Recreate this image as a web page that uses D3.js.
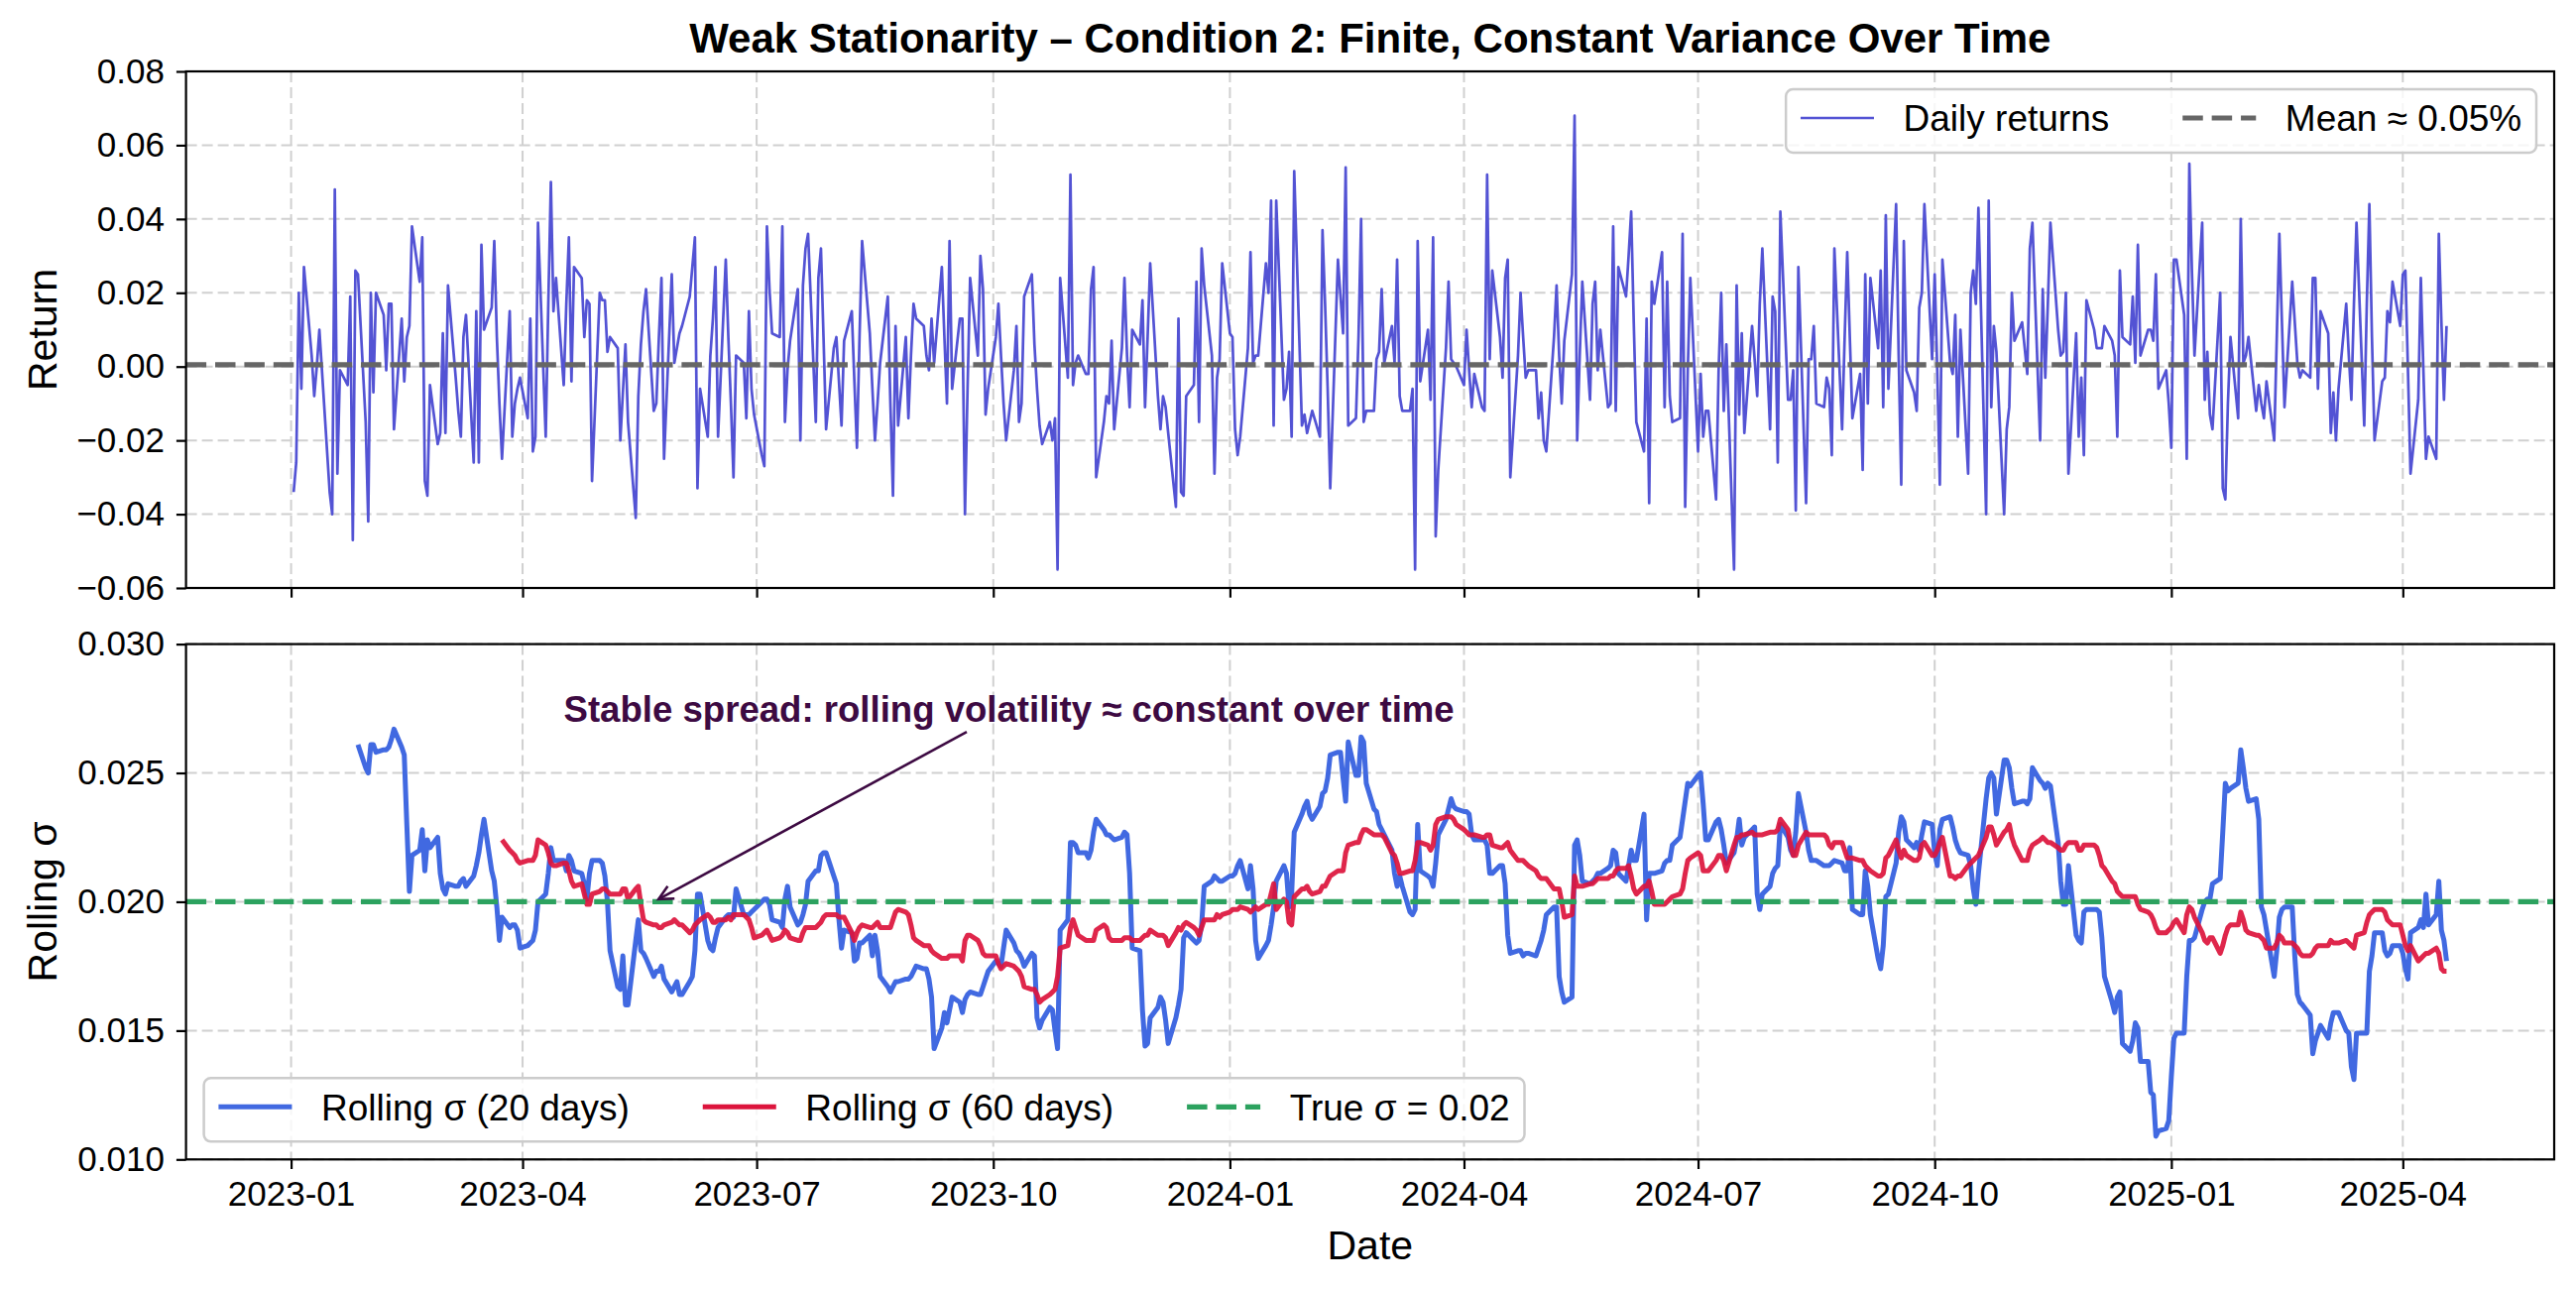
<!DOCTYPE html>
<html>
<head>
<meta charset="utf-8">
<script src="https://cdn.jsdelivr.net/npm/d3@7"></script>
<style>
	html, body { margin: 0; padding: 0; background: #fff; }
	svg { display: block; }
</style>
</head>
<body>
<svg id="chart" width="2598" height="1300"></svg>
<script>
'use strict';

//----- Data -----

//First business day of the series (one return per business day)
var startDate = "2023-01-02";

//Daily returns, in percent
var dailyReturnsPct = [
	-3.4,-2.6,2.0,-0.6,2.7, 0.3,-0.8,0.0,1.0,-0.1,
	-3.4,-4.0,4.8,-2.9,-0.1, -0.5,1.9,-4.7,2.6,2.5,
	-1.5,-4.2,2.0,-0.7,2.0, 1.4,-0.1,1.7,1.7,-1.7,
	1.3,-0.4,0.8,1.1,3.8, 2.3,3.5,-3.1,-3.5,-0.5,
	-2.1,-1.8,0.9,-1.8,2.2, -0.3,-1.2,-1.9,0.8,1.4,
	-2.6,1.5,-2.6,3.3,1.0, 1.6,3.4,0.8,-1.0,-2.5,
	1.5,-1.9,-1.0,-0.6,-0.3, -1.4,1.3,-2.3,-1.9,3.9,
	-1.9,1.7,5.0,1.5,2.4, -0.5,1.7,3.5,-0.4,2.7,
	2.4,0.8,1.8,1.7,-3.1, 2.0,1.8,1.8,0.4,0.8,
	0.5,-2.0,-0.7,0.6,-1.5, -4.1,-0.8,0.6,1.5,2.1,
	-1.2,-1.0,0.8,2.4,-2.5, 2.5,0.1,0.5,0.9,1.1,
	1.9,2.7,3.5,-3.3,-0.6, -1.9,0.3,1.3,2.7,-1.9,
	2.9,0.8,-1.0,-3.0,0.3, 0.1,-1.4,1.5,-0.6,-1.3,
	-2.4,-2.7,3.8,2.1,0.9, 0.8,3.8,-1.5,-0.1,0.7,
	2.1,-2.0,2.2,3.2,3.6, -1.5,2.4,3.2,0.8,-1.7,
	0.5,0.8,-0.4,-1.6,0.7, 1.5,-0.4,-2.2,0.8,3.4,
	0.9,-0.6,-2.0,-1.0,0.1, 1.9,-1.0,-3.5,1.1,-1.6,
	0.8,-1.4,0.3,1.7,1.3, 1.1,0.3,-0.1,1.3,0.1,
	2.7,0.8,-1.0,3.4,-0.6, 1.3,1.3,-4.0,-0.6,2.4,
	0.3,3.0,2.1,-1.3,-0.6, 0.8,1.7,0.3,-1.0,-2.0,
	-0.1,1.1,-1.5,-1.0,1.9, 2.5,0.6,-0.6,-1.6,-2.1,
	-1.5,-2.0,-1.4,-5.5,2.4, -0.3,5.2,-0.5,0.1,0.3,
	-0.2,-0.2,2.1,2.7,-3.0, -1.5,-0.8,-1.0,0.7,-1.7,
	0.5,2.4,0.3,-1.1,1.0, 0.6,1.8,-1.1,0.8,2.8,
	-0.8,-1.7,-0.8,-1.1,-1.8, -3.8,1.3,-3.4,-3.5,-0.8,
	-0.5,2.3,-1.5,3.2,2.2, 0.3,-2.9,-0.3,0.2,2.8,
	0.9,0.8,-1.7,-2.4,-1.9, 0.5,3.1,0.1,0.3,0.3,
	2.8,2.0,4.5,-1.6,4.5, -0.9,-0.6,0.4,-1.9,5.3,
	-1.6,-1.3,-1.8,-1.5,-1.2, -1.9,3.7,1.7,-0.6,-3.3,
	2.9,1.9,0.9,5.4,-1.6, -1.4,0.8,4.0,-1.5,-1.2,
	-1.2,0.2,0.4,2.1,0.1, 1.1,0.1,2.9,-0.8,-1.2,
	-1.2,-0.6,-5.5,3.4,-0.4, 1.0,-0.9,3.5,-4.6,-2.8,
	0.5,2.3,0.2,0.1,0.0, -0.5,1.0,-0.1,-1.1,-0.2,
	-1.1,-1.2,5.2,0.2,2.6, 0.8,-0.3,2.4,2.9,-3.0,
	0.3,2.0,0.8,-0.3,-0.1, -0.1,-1.4,-0.7,-2.0,-2.3,
	0.8,2.2,0.3,-1.0,0.7, 2.5,6.8,-2.0,0.3,2.3,
	-0.9,1.7,2.3,-0.1,1.0, -1.1,-1.0,3.8,-1.2,2.7,
	1.9,3.0,4.2,1.2,-1.5, -2.3,1.3,-3.7,2.3,1.7,
	3.1,-1.1,2.3,-0.8,-1.5, -1.4,3.6,-3.8,-0.1,2.4,
	-2.3,-0.2,-1.9,-1.2,-1.2, -3.6,-0.1,2.0,-1.2,0.6,
	-5.5,2.2,-1.3,0.9,-1.8, 1.1,0.2,-0.8,1.7,3.2,
	-1.7,1.9,1.5,-2.6,4.2, -0.9,-0.9,-0.1,-3.9,2.7,
	-3.7,0.2,0.2,1.1,-1.0, -1.1,-0.3,-0.6,-2.4,3.2,
	-1.7,0.8,3.1,0.8,-1.4, -0.2,-2.8,2.5,-1.0,2.4,
	0.5,2.6,-1.1,4.1,-0.6, 4.4,0.3,-3.2,3.4,-0.1,
	-0.7,-1.2,1.6,2.0,4.4, 0.2,2.5,-0.1,-3.2,2.9,
	0.1,-0.2,1.4,-1.9,1.0, -2.9,2.0,2.6,1.7,4.3,
	-4.0,4.5,-1.1,1.1,0.4, -4.0,-1.7,-1.1,2.0,0.7,
	1.2,0.5,-0.2,3.2,3.9, -2.0,2.1,-0.3,1.7,3.9,
	1.0,0.3,0.4,2.0,-2.9, 0.9,-1.9,-0.3,-2.4,1.8,
	1.0,0.5,0.5,0.5,1.1, 0.7,0.3,-1.9,2.6,0.8,
	0.6,1.9,0.1,3.3,0.3, 1.0,1.0,0.7,2.5,-0.6,
	-0.1,-1.0,-2.2,2.9,2.9, 1.4,-2.5,5.5,2.6,0.3,
	3.9,-0.9,0.4,-1.3,-1.7, 2.0,-3.3,-3.6,-1.0,0.8,
	-1.4,4.0,0.1,0.3,0.8, -1.2,-0.5,-1.0,-1.4,-0.4,
	-2.0,0.8,3.6,1.2,-1.1, 2.3,1.2,0.1,-0.3,-0.1,
	-0.3,2.4,2.4,-0.6,1.5, 0.9,-1.8,-0.7,-2.0,-0.6,
	1.7,0.3,-0.9,1.7,3.9, -1.6,1.7,4.4,0.8,-2.0,
	-0.4,-0.3,1.5,1.2,2.3, 1.1,2.5,2.6,-0.1,-2.9,
	-0.9,2.4,-0.1,-2.5,-1.9, -2.5,3.6,1.2,-0.9,1.1
];

//Rolling 20-day sigma, in percent (first value on the 20th day)
var sigma20Pct = [
	2.61,
	2.52,2.50,2.61,2.61,2.58, 2.59,2.59,2.60,2.63,2.67,
	2.60,2.57,2.30,2.04,2.18, 2.20,2.28,2.12,2.24,2.21,
	2.25,2.11,2.05,2.03,2.07, 2.06,2.06,2.08,2.09,2.06,
	2.10,2.14,2.19,2.26,2.32, 2.12,2.08,1.98,1.85,1.94,
	1.90,1.91,1.91,1.89,1.82, 1.83,1.84,1.85,1.89,2.00,
	2.03,2.11,2.21,2.16,2.16, 2.16,2.12,2.18,2.16,2.12,
	2.11,2.07,2.01,2.11,2.16, 2.16,2.15,2.10,2.00,1.81,
	1.67,1.66,1.79,1.60,1.60, 1.85,1.93,1.81,1.80,1.78,
	1.71,1.73,1.73,1.75,1.70, 1.65,1.67,1.69,1.64,1.64,
	1.69,1.71,1.81,2.03,2.03, 1.85,1.82,1.81,1.86,1.90,
	1.94,1.95,1.95,1.94,2.05, 1.95,1.95,1.95,1.96,1.97,
	2.00,2.01,2.01,1.99,1.93, 1.92,1.90,2.01,2.06,1.98,
	1.91,1.92,1.95,1.99,2.08, 2.12,2.12,2.18,2.19,2.19,
	2.10,2.07,1.93,1.82,1.89, 1.88,1.77,1.78,1.84,1.84,
	1.87,1.79,1.87,1.81,1.71, 1.67,1.65,1.67,1.69,1.69,
	1.70,1.70,1.71,1.73,1.75, 1.74,1.74,1.70,1.63,1.43,
	1.51,1.57,1.53,1.58,1.63, 1.61,1.57,1.62,1.64,1.65,
	1.64,1.64,1.67,1.70,1.73, 1.77,1.76,1.75,1.82,1.89,
	1.84,1.81,1.80,1.78,1.75, 1.80,1.79,1.55,1.51,1.54,
	1.59,1.58,1.50,1.43,1.89, 1.93,2.23,2.23,2.22,2.19,
	2.19,2.17,2.20,2.27,2.32, 2.28,2.26,2.26,2.25,2.24,
	2.25,2.27,2.26,2.11,1.82, 1.81,1.58,1.44,1.45,1.55,
	1.59,1.63,1.61,1.54,1.45, 1.55,1.60,1.66,1.86,1.88,
	1.85,1.84,1.85,1.91,2.06, 2.08,2.10,2.09,2.08,2.08,
	2.10,2.10,2.11,2.14,2.16, 2.05,2.14,2.05,1.85,1.78,
	1.83,1.85,1.91,1.98,2.08, 2.14,2.11,1.98,2.03,2.27,
	2.34,2.37,2.39,2.34,2.32, 2.37,2.42,2.43,2.48,2.57,
	2.58,2.58,2.48,2.39,2.62, 2.49,2.49,2.64,2.62,2.46,
	2.36,2.35,2.30,2.28,2.26, 2.20,2.11,2.06,2.10,2.06,
	1.96,1.95,1.97,2.30,2.12, 2.10,2.09,2.06,2.15,2.26,
	2.32,2.36,2.40,2.37,2.36, 2.35,2.35,2.34,2.26,2.24,
	2.24,2.24,2.22,2.11,2.11, 2.14,2.14,2.07,1.87,1.80,
	1.81,1.81,1.79,1.80,1.80, 1.79,1.82,1.85,1.89,1.95,
	1.98,1.98,1.71,1.65,1.61, 1.63,2.22,2.24,2.18,2.08,
	2.07,2.08,2.09,2.11,2.11, 2.13,2.14,2.20,2.19,2.11,
	2.08,2.14,2.20,2.16,2.16, 2.34,1.93,2.11,2.11,2.11,
	2.12,2.15,2.16,2.16,2.22, 2.25,2.32,2.39,2.46,2.45,
	2.49,2.50,2.38,2.24,2.24, 2.31,2.32,2.28,2.22,2.15,
	2.19,2.24,2.32,2.22,2.25, 2.28,2.29,2.03,1.97,2.03,
	2.06,2.11,2.13,2.14,2.30, 2.25,2.20,2.18,2.27,2.42,
	2.27,2.20,2.16,2.16,2.16, 2.14,2.14,2.14,2.15,2.16,
	2.15,2.12,2.12,2.21,1.97, 1.95,1.95,2.12,2.06,1.95,
	1.78,1.74,1.83,2.02,2.03, 2.15,2.27,2.33,2.31,2.24,
	2.21,2.23,2.20,2.26,2.31, 2.30,2.19,2.14,2.28,2.32,
	2.33,2.29,2.24,2.21,2.19, 2.18,2.14,2.05,1.99,2.11,
	2.40,2.48,2.50,2.48,2.34, 2.55,2.55,2.52,2.44,2.38,
	2.39,2.39,2.38,2.40,2.52, 2.47,2.46,2.44,2.46,2.45,
	2.23,2.08,1.99,1.99,2.14, 1.87,1.85,1.84,1.96,1.97,
	1.97,1.97,1.96,1.86,1.71, 1.61,1.57,1.63,1.65,1.45,
	1.42,1.46,1.53,1.51,1.38, 1.38,1.26,1.25,1.09,1.11,
	1.12,1.15,1.32,1.47,1.49, 1.49,1.71,1.85,1.85,1.86,
	1.97,2.00,2.01,2.01,2.07, 2.09,2.27,2.46,2.43,2.44,
	2.46,2.59,2.52,2.44,2.39, 2.40,2.32,1.98,1.95,1.89,
	1.71,1.81,1.94,1.97,1.98, 1.98,1.79,1.64,1.61,1.60,
	1.56,1.41,1.46,1.49,1.52, 1.47,1.53,1.57,1.57,1.57,
	1.50,1.49,1.36,1.31,1.49, 1.49,1.49,1.73,1.79,1.88,
	1.88,1.81,1.79,1.80,1.83, 1.83,1.80,1.74,1.70,1.88,
	1.90,1.93,1.90,2.03,1.91, 1.95,2.08,1.89,1.85,1.77
];

//Rolling 60-day sigma, in percent (first value on the 60th day)
var sigma60Pct = [
	2.24,
	2.20,2.19,2.18,2.16,2.15, 2.16,2.16,2.16,2.18,2.24,
	2.22,2.19,2.15,2.14,2.14, 2.15,2.15,2.12,2.08,2.06,
	2.07,2.03,1.99,1.99,2.03, 2.04,2.05,2.05,2.04,2.03,
	2.03,2.03,2.05,2.05,2.01, 2.05,2.06,1.99,1.93,1.92,
	1.91,1.91,1.90,1.90,1.91, 1.92,1.93,1.92,1.91,1.91,
	1.88,1.89,1.91,1.92,1.93, 1.95,1.94,1.92,1.92,1.93,
	1.93,1.94,1.93,1.95,1.95, 1.95,1.94,1.93,1.90,1.86,
	1.87,1.88,1.89,1.87,1.85, 1.86,1.87,1.89,1.88,1.86,
	1.85,1.85,1.88,1.90,1.90, 1.90,1.91,1.92,1.94,1.95,
	1.95,1.95,1.94,1.94,1.94, 1.88,1.85,1.88,1.90,1.91,
	1.90,1.90,1.91,1.92,1.90, 1.90,1.90,1.93,1.96,1.97,
	1.96,1.95,1.91,1.86,1.85, 1.83,1.83,1.83,1.81,1.80,
	1.78,1.78,1.78,1.79,1.79, 1.79,1.77,1.85,1.87,1.87,
	1.85,1.83,1.80,1.79,1.79, 1.79,1.76,1.74,1.75,1.76,
	1.75,1.74,1.73,1.71,1.67, 1.66,1.66,1.64,1.61,1.62,
	1.64,1.65,1.66,1.71,1.82, 1.83,1.90,1.93,1.90,1.87,
	1.85,1.85,1.85,1.85,1.89, 1.91,1.90,1.86,1.85,1.85,
	1.85,1.86,1.86,1.86,1.85, 1.85,1.86,1.87,1.87,1.89,
	1.87,1.87,1.87,1.86,1.83, 1.88,1.90,1.89,1.91,1.92,
	1.90,1.89,1.87,1.90,1.93, 1.93,1.93,1.95,1.94,1.95,
	1.96,1.97,1.97,1.97,1.98, 1.97,1.96,1.97,1.98,1.97,
	1.99,1.99,2.03,2.07,1.97, 2.01,2.00,1.92,1.91,2.02,
	2.05,2.05,2.06,2.04,2.03, 2.04,2.06,2.06,2.08,2.10,
	2.12,2.12,2.12,2.19,2.22, 2.23,2.23,2.26,2.28,2.28,
	2.26,2.26,2.26,2.26,2.25, 2.19,2.18,2.15,2.11,2.11,
	2.12,2.12,2.16,2.23,2.23, 2.22,2.20,2.22,2.30,2.32,
	2.33,2.33,2.33,2.32,2.30, 2.28,2.27,2.26,2.26,2.26,
	2.25,2.25,2.26,2.26,2.22, 2.21,2.21,2.22,2.23,2.20,
	2.16,2.16,2.16,2.15,2.14, 2.12,2.10,2.09,2.09,2.09,
	2.05,2.05,2.05,2.00,1.94, 1.95,2.10,2.06,2.06,2.06,
	2.07,2.07,2.08,2.09,2.09, 2.09,2.10,2.10,2.12,2.13,
	2.13,2.14,2.10,2.05,2.03, 2.06,2.06,2.08,2.04,1.99,
	1.99,1.99,2.00,2.01,2.02, 2.03,2.05,2.11,2.16,2.17,
	2.19,2.18,2.12,2.12,2.12, 2.16,2.18,2.18,2.16,2.12,
	2.22,2.25,2.25,2.26,2.26, 2.27,2.26,2.26,2.26,2.26,
	2.27,2.27,2.27,2.28,2.32, 2.28,2.22,2.18,2.18,2.22,
	2.27,2.26,2.26,2.26,2.26, 2.26,2.25,2.22,2.21,2.23,
	2.23,2.20,2.17,2.17,2.17, 2.16,2.16,2.14,2.13,2.12,
	2.10,2.10,2.11,2.17,2.18, 2.24,2.20,2.17,2.20,2.18,
	2.16,2.16,2.17,2.22,2.23, 2.18,2.18,2.20,2.23,2.25,
	2.10,2.10,2.09,2.10,2.10, 2.14,2.15,2.16,2.17,2.18,
	2.25,2.29,2.29,2.26,2.22, 2.27,2.28,2.30,2.25,2.22,
	2.16,2.16,2.16,2.20,2.22, 2.24,2.25,2.24,2.23,2.23,
	2.21,2.20,2.20,2.22,2.23, 2.23,2.20,2.20,2.22,2.22,
	2.22,2.21,2.18,2.14,2.13, 2.08,2.07,2.04,2.03,2.02,
	2.02,2.02,2.02,1.99,1.97, 1.96,1.95,1.93,1.90,1.88,
	1.88,1.89,1.90,1.92,1.93, 1.88,1.95,1.98,1.97,1.94,
	1.88,1.85,1.84,1.86,1.86, 1.80,1.83,1.87,1.90,1.91,
	1.91,1.96,1.93,1.89,1.88, 1.87,1.87,1.86,1.85,1.82,
	1.82,1.84,1.87,1.86,1.84, 1.84,1.83,1.82,1.80,1.79,
	1.79,1.80,1.82,1.83,1.83, 1.83,1.85,1.84,1.84,1.84,
	1.85,1.84,1.83,1.82,1.87, 1.88,1.92,1.95,1.96,1.97,
	1.97,1.96,1.93,1.92,1.91, 1.91,1.87,1.83,1.81,1.83,
	1.77,1.78,1.79,1.80,1.80, 1.82,1.80,1.74,1.73,1.73
];

var window20 = 20;
var window60 = 60;
var meanReturn = 0.0005;
var trueSigma = 0.02;

//Axis ticks
var xTickMonths = ["2023-01","2023-04","2023-07","2023-10","2024-01","2024-04","2024-07","2024-10","2025-01","2025-04"];
var returnTicks = [-0.06, -0.04, -0.02, 0.00, 0.02, 0.04, 0.06, 0.08];
var sigmaTicks = [0.010, 0.015, 0.020, 0.025, 0.030];

//Texts
var titleText = "Weak Stationarity \u2013 Condition 2: Finite, Constant Variance Over Time";
var annotationText = "Stable spread: rolling volatility \u2248 constant over time";
var topLegendLabels = ["Daily returns", "Mean \u2248 0.05%"];
var bottomLegendLabels = ["Rolling \u03c3 (20 days)", "Rolling \u03c3 (60 days)", "True \u03c3 = 0.02"];

//----- Layout and style -----
var FONT = '"Liberation Sans", Arial, Helvetica, sans-serif';
var plotLeft = 187.6, plotRight = 2576;
var topPanel = { top: 72, bottom: 593 };
var bottomPanel = { top: 649.6, bottom: 1169.3 };
var tickLen = 9.7;
var gridColor = "#d0d0d0";
var colors = {
	returns: "#5353d4",
	mean: "#666666",
	sigma20: "#4169e1",
	sigma60: "#dc143c",
	truth: "#2ca25f",
	note: "#3d0a42"
};
var bigDash = "20.5,8.9";

var svg = d3.select("#chart").attr("font-family", FONT);

//----- Series -----
var parseDay = d3.utcParse("%Y-%m-%d");
var parseMonth = d3.utcParse("%Y-%m");

//One business day per return
var dates = [];
var day = parseDay(startDate);
while(dates.length < dailyReturnsPct.length) {
	var weekDay = day.getUTCDay();
	if(weekDay !== 0 && weekDay !== 6)
		dates.push(day);
	day = d3.utcDay.offset(day, 1);
}

var returns = dailyReturnsPct.map(function(v, i) { return { date: dates[i], value: v / 100 }; });
var rolling20 = sigma20Pct.map(function(v, i) { return { date: dates[i + window20 - 1], value: v / 100 }; });
var rolling60 = sigma60Pct.map(function(v, i) { return { date: dates[i + window60 - 1], value: v / 100 }; });

//x domain with the 5% margins matplotlib adds
var t0 = dates[0], t1 = dates[dates.length - 1];
var xPad = (t1 - t0) * 0.05;
var x = d3.scaleUtc()
	.domain([new Date(+t0 - xPad), new Date(+t1 + xPad)])
	.range([plotLeft, plotRight]);
var xTicks = xTickMonths.map(function(m) { return parseMonth(m); });

var yReturn = d3.scaleLinear().domain([-0.06, 0.08]).range([topPanel.bottom, topPanel.top]);
var ySigma = d3.scaleLinear().domain([0.010, 0.030]).range([bottomPanel.bottom, bottomPanel.top]);

//----- Panels -----
function drawPanel(panel, yScale, yTicks, yFormat, showXLabels, clipId) {
	var g = svg.append("g");

	//Grid
	g.append("g").selectAll("line").data(xTicks).enter().append("line")
		.attr("x1", function(d) { return x(d); })
		.attr("x2", function(d) { return x(d); })
		.attr("y1", panel.top).attr("y2", panel.bottom)
		.attr("stroke", gridColor).attr("stroke-width", 2)
		.attr("stroke-dasharray", "11,5");
	g.append("g").selectAll("line").data(yTicks).enter().append("line")
		.attr("x1", plotLeft).attr("x2", plotRight)
		.attr("y1", function(d) { return yScale(d); })
		.attr("y2", function(d) { return yScale(d); })
		.attr("stroke", gridColor).attr("stroke-width", 2)
		.attr("stroke-dasharray", "11,5");

	//Y axis
	var yAxis = d3.axisLeft(yScale).tickValues(yTicks).tickFormat(yFormat)
		.tickSize(tickLen).tickPadding(12).tickSizeOuter(0);
	var ya = g.append("g").attr("transform", "translate(" + plotLeft + ",0)").call(yAxis)
		.attr("font-family", FONT).attr("font-size", 35);
	ya.select(".domain").remove();
	ya.selectAll("line").attr("stroke", "#000").attr("stroke-width", 2.2);
	ya.selectAll("text").attr("fill", "#000");

	//X axis
	var xAxis = d3.axisBottom(x).tickValues(xTicks)
		.tickFormat(showXLabels ? d3.utcFormat("%Y-%m") : "")
		.tickSize(tickLen).tickPadding(12).tickSizeOuter(0);
	var xa = g.append("g").attr("transform", "translate(0," + panel.bottom + ")").call(xAxis)
		.attr("font-family", FONT).attr("font-size", 35);
	xa.select(".domain").remove();
	xa.selectAll("line").attr("stroke", "#000").attr("stroke-width", 2.2);
	xa.selectAll("text").attr("fill", "#000");

	//Clip for the data
	svg.append("defs").append("clipPath").attr("id", clipId)
		.append("rect")
		.attr("x", plotLeft).attr("y", panel.top)
		.attr("width", plotRight - plotLeft).attr("height", panel.bottom - panel.top);

	var plot = g.append("g").attr("clip-path", "url(#" + clipId + ")");
	return { g: g, plot: plot };
}

function drawFrame(panel) {
	svg.append("rect")
		.attr("x", plotLeft).attr("y", panel.top)
		.attr("width", plotRight - plotLeft).attr("height", panel.bottom - panel.top)
		.attr("fill", "none").attr("stroke", "#000").attr("stroke-width", 2.2);
}

var fmtReturn = d3.format(".2f");
var fmtSigma = d3.format(".3f");

var returnsPanel = drawPanel(topPanel, yReturn, returnTicks, fmtReturn, false, "clipTop");
var sigmaPanel = drawPanel(bottomPanel, ySigma, sigmaTicks, fmtSigma, true, "clipBottom");

function lineFor(yScale) {
	return d3.line()
		.x(function(d) { return x(d.date); })
		.y(function(d) { return yScale(d.value); });
}

//Top panel: returns and mean
returnsPanel.plot.append("path").datum(returns)
	.attr("d", lineFor(yReturn))
	.attr("fill", "none").attr("stroke", colors.returns)
	.attr("stroke-width", 2.7).attr("stroke-linejoin", "round");

returnsPanel.plot.append("line")
	.attr("x1", plotLeft).attr("x2", plotRight)
	.attr("y1", yReturn(meanReturn)).attr("y2", yReturn(meanReturn))
	.attr("stroke", colors.mean).attr("stroke-width", 5.2)
	.attr("stroke-dasharray", bigDash);

//Bottom panel: rolling sigmas and true sigma
sigmaPanel.plot.append("path").datum(rolling20)
	.attr("d", lineFor(ySigma))
	.attr("fill", "none").attr("stroke", colors.sigma20)
	.attr("stroke-width", 5).attr("stroke-linejoin", "round");

sigmaPanel.plot.append("path").datum(rolling60)
	.attr("d", lineFor(ySigma))
	.attr("fill", "none").attr("stroke", colors.sigma60)
	.attr("stroke-opacity", 0.92)
	.attr("stroke-width", 5).attr("stroke-linejoin", "round");

sigmaPanel.plot.append("line")
	.attr("x1", plotLeft).attr("x2", plotRight)
	.attr("y1", ySigma(trueSigma)).attr("y2", ySigma(trueSigma))
	.attr("stroke", colors.truth).attr("stroke-width", 5.2)
	.attr("stroke-dasharray", bigDash);

drawFrame(topPanel);
drawFrame(bottomPanel);

//----- Texts -----
var centerX = (plotLeft + plotRight) / 2;

svg.append("text")
	.attr("x", centerX).attr("y", 53)
	.attr("text-anchor", "middle")
	.attr("font-size", 42).attr("font-weight", "bold")
	.attr("fill", "#000")
	.text(titleText);

svg.append("text")
	.attr("x", centerX).attr("y", 1270)
	.attr("text-anchor", "middle")
	.attr("font-size", 41).attr("fill", "#000")
	.text("Date");

function yLabel(text, panel) {
	var cy = (panel.top + panel.bottom) / 2;
	svg.append("text")
		.attr("transform", "translate(57," + cy + ") rotate(-90)")
		.attr("text-anchor", "middle")
		.attr("font-size", 41).attr("fill", "#000")
		.text(text);
}
yLabel("Return", topPanel);
yLabel("Rolling \u03c3", bottomPanel);

//----- Legends -----
function drawLegend(items, place) {
	var fs = 37;
	var pad = 0.4 * fs, handleLen = 2 * fs, textPad = 0.8 * fs, colSpace = 2 * fs;
	var boxH = 64;

	var g = svg.append("g");
	var box = g.append("rect");
	var cx = pad;

	items.forEach(function(item, i) {
		if(i > 0)
			cx += colSpace;

		g.append("line")
			.attr("x1", cx).attr("x2", cx + handleLen)
			.attr("y1", -3).attr("y2", -3)
			.attr("stroke", item.color)
			.attr("stroke-width", item.width)
			.attr("stroke-dasharray", item.dash || null);

		cx += handleLen + textPad;

		var t = g.append("text")
			.attr("x", cx).attr("y", -3).attr("dy", "0.36em")
			.attr("font-size", fs).attr("fill", "#000")
			.text(item.label);

		cx += t.node().getComputedTextLength();
	});

	var boxW = cx + pad;
	box.attr("x", 0).attr("y", -boxH / 2)
		.attr("width", boxW).attr("height", boxH)
		.attr("rx", 7).attr("ry", 7)
		.attr("fill", "#fff").attr("fill-opacity", 0.8)
		.attr("stroke", "#cccccc").attr("stroke-width", 2.5);

	var left = place.right !== undefined ? place.right - boxW : place.left;
	var cy = place.top !== undefined ? place.top + boxH / 2 : place.bottom - boxH / 2;
	g.attr("transform", "translate(" + left + "," + cy + ")");
}

drawLegend([
	{ label: topLegendLabels[0], color: colors.returns, width: 2.7 },
	{ label: topLegendLabels[1], color: colors.mean, width: 5.2, dash: bigDash }
], { right: plotRight - 18, top: topPanel.top + 18 });

drawLegend([
	{ label: bottomLegendLabels[0], color: colors.sigma20, width: 5 },
	{ label: bottomLegendLabels[1], color: colors.sigma60, width: 5 },
	{ label: bottomLegendLabels[2], color: colors.truth, width: 5.2, dash: bigDash }
], { left: plotLeft + 18, bottom: bottomPanel.bottom - 18 });

//----- Annotation -----
var noteXY = { date: dates[100], value: trueSigma };
var noteTextAt = { date: dates[75], value: 0.027 };

var note = svg.append("text")
	.attr("x", x(noteTextAt.date)).attr("y", ySigma(noteTextAt.value))
	.attr("font-size", 36.6).attr("font-weight", "bold")
	.attr("fill", colors.note)
	.text(annotationText);

(function drawArrow() {
	var bb = note.node().getBBox();
	var cx = bb.x + bb.width / 2, cy = bb.y + bb.height / 2;
	var tx = x(noteXY.date), ty = ySigma(noteXY.value);
	var dx = tx - cx, dy = ty - cy;
	var len = Math.sqrt(dx * dx + dy * dy);
	var ux = dx / len, uy = dy / len;

	//Where the line leaves the text box
	var tExit = Math.min(
		Math.abs((bb.height / 2) / uy),
		Math.abs((bb.width / 2) / ux)
	);
	var shrink = 5.5;
	var sx = cx + ux * (tExit + shrink), sy = cy + uy * (tExit + shrink);
	var ex = tx - ux * shrink, ey = ty - uy * shrink;

	svg.append("line")
		.attr("x1", sx).attr("y1", sy).attr("x2", ex).attr("y2", ey)
		.attr("stroke", colors.note).attr("stroke-width", 2.6);

	var hl = 14.4, hw = 7.2;
	var nx = -uy, ny = ux;
	var a1 = [ex - ux * hl + nx * hw, ey - uy * hl + ny * hw];
	var a2 = [ex - ux * hl - nx * hw, ey - uy * hl - ny * hw];
	svg.append("path")
		.attr("d", "M" + a1[0] + "," + a1[1] + "L" + ex + "," + ey + "L" + a2[0] + "," + a2[1])
		.attr("fill", "none").attr("stroke", colors.note)
		.attr("stroke-width", 2.6).attr("stroke-linejoin", "miter");
})();
</script>
</body>
</html>
